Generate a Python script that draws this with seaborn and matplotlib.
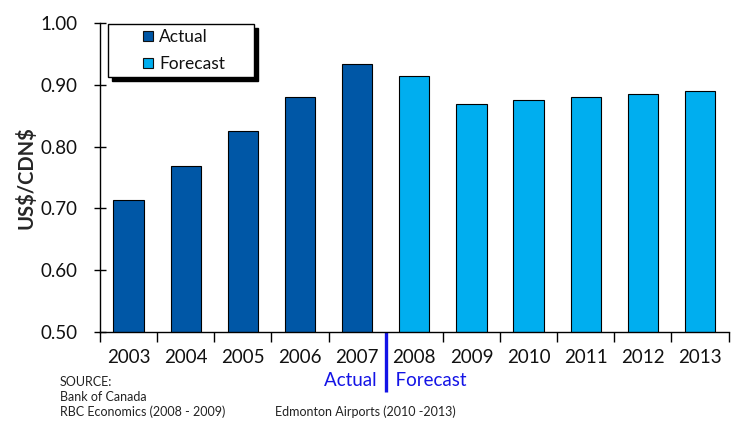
import matplotlib
matplotlib.use("Agg")
import matplotlib.pyplot as plt
from matplotlib.lines import Line2D
import matplotlib.transforms as mtransforms
import seaborn as sns
import pandas as pd

# Exchange rate data
years = ["2003", "2004", "2005", "2006", "2007", "2008", "2009", "2010", "2011", "2012", "2013"]
rates = [0.714, 0.768, 0.826, 0.881, 0.934, 0.914, 0.869, 0.875, 0.880, 0.885, 0.890]
kinds = ["Actual"] * 5 + ["Forecast"] * 6
series_names = ["Actual", "Forecast"]
series_colors = ["#0057A6", "#00AEEF"]
y_ticks = [0.50, 0.60, 0.70, 0.80, 0.90, 1.00]
source_lines = ["SOURCE:", "Bank of Canada", "RBC Economics (2008 - 2009)"]
source_extra = "Edmonton Airports (2010 -2013)"

sns.set_theme(style="white")
plt.rcParams["font.family"] = ["Lato", "DejaVu Sans"]
plt.rcParams["text.parse_math"] = False

df = pd.DataFrame({"year": years, "rate": rates, "kind": kinds})

fig = plt.figure(figsize=(7.33, 4.22), dpi=100)
ax = fig.add_axes([100 / 733, 1 - 332 / 422, 628.5 / 733, 309 / 422])

sns.barplot(data=df, x="year", y="rate", hue="kind", hue_order=series_names,
            palette=dict(zip(series_names, series_colors)), dodge=False,
            width=0.53, edgecolor="black", linewidth=0.8, saturation=1,
            legend=False, ax=ax)

ax.set_xlim(-0.5, len(years) - 0.5)
ax.set_ylim(0.5, 1.0)
ax.set_yticks(y_ticks)
ax.set_yticklabels([f"{t:.2f}" for t in y_ticks], fontsize=13.5, color="#111111")
ax.set_xticks(range(len(years)))
ax.set_xticklabels(years, fontsize=13.5, color="#111111")
ax.set_xticks([i - 0.5 for i in range(len(years) + 1)], minor=True)
ax.tick_params(axis="x", which="major", length=0, pad=12)
ax.tick_params(axis="x", which="minor", length=7, width=1, color="black", direction="out", bottom=True)
ax.tick_params(axis="y", which="major", length=8, width=1, color="black", direction="inout", left=True, pad=12)
ax.set_xlabel("")
ax.set_ylabel("US$/CDN$", fontsize=14.5, fontweight="bold", labelpad=3)

for side in ["top", "right"]:
    ax.spines[side].set_visible(False)
for side in ["left", "bottom"]:
    ax.spines[side].set_color("black")
    ax.spines[side].set_linewidth(1)

# Legend with solid drop shadow
handles = [Line2D([], [], linestyle="none", marker="s", markersize=6.5,
                  markerfacecolor=c, markeredgecolor="#111111", markeredgewidth=0.8)
           for c in series_colors]
leg = fig.legend(handles, series_names, loc="upper left",
                 bbox_to_anchor=(108 / 733, 1 - 77 / 422, 146 / 733, 53 / 422),
                 bbox_transform=fig.transFigure, mode="expand", borderaxespad=0,
                 fontsize=12.5, frameon=True, fancybox=False, edgecolor="black",
                 handlelength=4.0, handletextpad=-1.35, labelspacing=0.6,
                 borderpad=0.3,
                 shadow={"ox": 3, "oy": -3, "color": "black", "alpha": 1})
leg.get_frame().set_linewidth(1)
for t in leg.get_texts():
    t.set_color("#111111")

# Actual / Forecast divider
trans = mtransforms.blended_transform_factory(ax.transData, ax.transAxes)
ax.plot([4.5, 4.5], [0, -60 / 309], transform=trans, color="#1414E6", lw=2.4,
        clip_on=False, solid_capstyle="butt")
ax.text(4.5, -49 / 309, "Actual  ", transform=trans, ha="right", va="center",
        color="#1414E6", fontsize=13.5)
ax.text(4.5, -49 / 309, "  Forecast", transform=trans, ha="left", va="center",
        color="#1414E6", fontsize=13.5)

for i, line in enumerate(source_lines):
    fig.text(60 / 733, 1 - (382 + 15 * i) / 422, line, fontsize=9,
             va="center", ha="left", color="#222222")
fig.text(275 / 733, 1 - 412 / 422, source_extra, fontsize=9,
         va="center", ha="left", color="#222222")

fig.savefig("out.png", dpi=100)
